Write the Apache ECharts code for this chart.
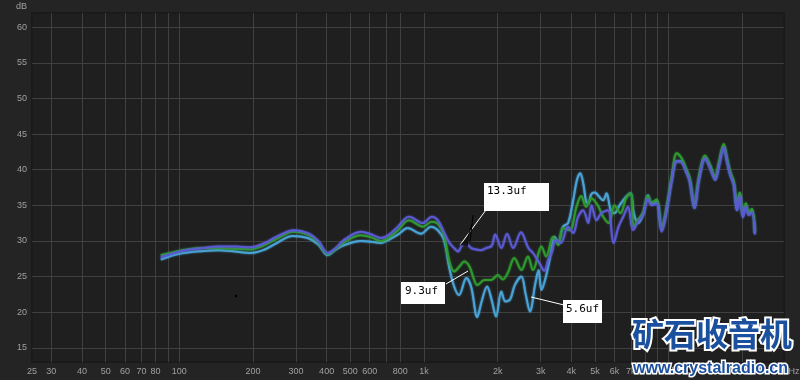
<!DOCTYPE html>
<html><head><meta charset="utf-8">
<script src="https://cdn.jsdelivr.net/npm/echarts@6/dist/echarts.min.js"></script>
<style>html,body{margin:0;padding:0;background:#242424}#c{width:800px;height:380px}</style>
</head><body><div id="c"></div>
<script>
// axis ticks
const xGridTicks = [30,40,50,60,70,80,90,100,200,300,400,500,600,700,800,1000,2000,3000,4000,5000,6000,7000,8000,9000,10000,20000];
const xLabelTicks = [25,30,40,50,60,70,80,100,200,300,400,500,600,800,1000,2000,3000,4000,5000,6000,7000,8000,10000,20000];
const yTicks = [15,20,25,30,35,40,45,50,55,60];

// 13.3uf
const f13 = [84,100,125,145,170,195,220,250,293,335,370,404,436,470,552,610,667,720,782,868,990,1075,1140,1208,1266,1328,1378,1431,1490,1558,1633,1712,1800,1890,1955,2070,2185,2316,2490,2670,2790,2950,3100,3230,3330,3450,3620,3880,4070,4265,4470,4690,4834,5070,5300,5650,5950,6240,6520,6820,7150,7500,7870,8230,8520,8930,9360,9810,10290,10780,11300,11740,12190,12750,13260,14090,14720,15500,16000,16790,17270,17820,18460,19020,19540,20100,20680,21250,21890,22510];
const d13 = [27.7,28.5,29.0,29.2,29.2,29.1,29.6,30.6,31.5,31.1,30.0,28.3,29.0,30.1,31.3,30.9,30.4,30.9,32.0,33.4,32.5,33.4,32.9,31.2,29.8,29.0,28.5,29.4,29.6,29.0,28.8,28.7,29.0,29.3,30.9,29.0,31.0,29.0,31.2,29.0,28.3,27.0,25.8,27.5,28.4,30.1,29.7,32.0,31.1,33.4,34.3,32.5,35.0,32.9,33.9,34.3,29.7,32.0,33.4,34.8,31.5,32.7,33.7,35.9,35.0,35.3,31.3,34.3,38.4,41.2,41.0,39.8,38.3,34.6,38.3,41.6,40.3,38.6,40.3,43.1,41.3,39.3,37.8,34.3,36.3,33.3,34.8,33.6,34.0,30.9];

// 9.3uf
const f93 = [84,100,125,145,170,195,220,250,293,335,370,404,436,470,552,610,667,720,782,868,990,1075,1140,1208,1266,1328,1396,1460,1534,1600,1650,1766,1880,2003,2100,2200,2340,2500,2660,2790,3020,3160,3370,3540,3700,3940,4200,4390,4600,4830,5130,5400,5700,6000,6350,6700,7000,7200,7500,7870,8230,8520,8930,9360,9810,10290,10780,11300,11740,12190,12750,13260,14090,14720,15500,16000,16790,17270,17820,18460,19020,19540,20100,20680,21250,21890,22510];
const d93 = [28.0,28.6,29.0,29.0,28.9,28.8,29.3,30.3,31.3,30.9,29.8,28.2,28.9,29.8,30.8,30.5,30.0,30.5,31.5,32.9,32.0,32.7,32.4,30.8,27.3,25.7,26.4,27.1,26.4,24.6,23.8,24.5,24.5,25.2,24.6,25.5,27.6,25.9,27.8,25.9,29.2,27.8,30.6,29.4,31.8,31.5,34.8,36.3,34.8,36.0,35.0,33.4,32.5,35.0,33.9,36.0,36.7,32.0,33.0,34.0,36.3,35.4,35.8,31.8,34.8,39.0,42.3,41.6,40.3,38.8,35.0,38.8,42.0,40.8,39.0,40.8,43.6,41.8,39.8,38.3,35.0,36.8,33.8,35.3,34.0,34.5,31.2];

// 5.6uf
const f56 = [84,100,125,145,170,195,220,250,290,335,370,404,436,470,552,610,667,720,790,857,972,1068,1140,1208,1266,1328,1390,1490,1560,1650,1720,1810,1890,1970,2070,2150,2250,2350,2500,2600,2710,2850,2940,3020,3150,3280,3420,3540,3700,3880,4070,4220,4350,4480,4600,4700,4830,5000,5200,5400,5570,5800,6000,6300,6700,6990,7200,7500,7870,8230,8520,8930,9360,9810,10290,10780,11300,11740,12190,12750,13260,14090,14720,15500,16000,16790,17270,17820,18460,19020,19540,20100,20680,21250,21890,22510];
const d56 = [27.4,28.2,28.6,28.7,28.5,28.3,28.7,29.7,30.7,30.4,29.5,28.0,28.8,29.4,30.0,29.9,29.7,30.2,31.0,31.8,31.0,32.0,31.5,30.1,26.4,23.6,22.4,24.8,23.5,19.3,21.5,23.6,21.7,19.4,22.9,21.5,21.8,23.8,25.0,22.6,20.1,24.0,25.9,23.1,25.0,27.8,30.6,29.7,32.0,32.5,35.7,38.6,39.5,38.0,35.5,35.3,36.6,36.8,36.2,35.7,36.7,34.3,33.9,35.0,36.2,36.7,33.9,32.5,33.8,36.4,35.2,35.5,31.5,34.3,38.6,41.2,41.2,40.0,38.6,34.6,38.5,41.6,40.5,38.6,40.5,43.3,41.5,39.5,38.0,34.3,36.7,33.5,35.0,33.8,34.3,31.1];

const pairs = (f, d) => f.map((v, i) => [v, d[i]]);
const fmtHz = v => v >= 1000 ? (v / 1000) + 'k' : String(v);

const chart = echarts.init(document.getElementById('c'), null, {renderer: 'canvas'});
const lineSeries = (name, f, d, color) => ({
  name, type: 'line', data: pairs(f, d), showSymbol: false, symbol: 'none', smooth: 0.35,
  lineStyle: {color, width: 2, shadowColor: color, shadowBlur: 2},
  z: 3
});
chart.setOption({
  animation: false,
  backgroundColor: '#242424',
  grid: {left: 32, right: 16, top: 13, bottom: 18, show: true, backgroundColor: '#1f1f1f', borderColor: '#1a1a1a', borderWidth: 2},
  xAxis: {
    type: 'log', logBase: 10, min: 25, max: 29600,
    axisLine: {show: false},
    axisTick: {show: false, customValues: xGridTicks},
    splitLine: {show: true, lineStyle: {color: '#404040', width: 1}},
    axisLabel: {customValues: xLabelTicks, formatter: fmtHz, color: '#a0a0a0', fontSize: 9, fontFamily: 'Liberation Sans', margin: 5}
  },
  yAxis: {
    type: 'value', min: 13, max: 62,
    name: 'dB', nameLocation: 'end', nameGap: 2, nameTextStyle: {color: '#a0a0a0', fontSize: 9, fontFamily: 'Liberation Sans', align: 'right', padding: [0, 5, 0, 0]},
    axisLine: {show: false},
    axisTick: {show: false, customValues: yTicks},
    splitLine: {show: true, lineStyle: {color: '#404040', width: 1}},
    axisLabel: {customValues: yTicks, color: '#a0a0a0', fontSize: 9, fontFamily: 'Liberation Sans', margin: 5}
  },
  series: [
    lineSeries('5.6uf', f56, d56, '#4aa3d6'),
    lineSeries('9.3uf', f93, d93, '#2e9a2e'),
    lineSeries('13.3uf', f13, d13, '#5a5ad2')
  ],
  graphic: [
    {type: 'circle', shape: {cx: 236, cy: 296, r: 1.2}, style: {fill: '#000'}, z: 100},
    {type: 'line', shape: {x1: 486, y1: 210, x2: 460, y2: 245}, style: {stroke: '#fff', lineWidth: 1}, z: 100},
    {type: 'polyline', shape: {points: [[473, 215], [470, 242]]}, style: {stroke: '#000', lineWidth: 1}, z: 100},
    {type: 'polyline', shape: {points: [[472, 224], [466, 243]]}, style: {stroke: '#000', lineWidth: 1}, z: 100},
    {type: 'polygon', shape: {points: [[460, 245], [469, 237], [468, 246]]}, style: {fill: '#111'}, z: 100},
    {type: 'rect', shape: {x: 484, y: 183, width: 65, height: 28}, style: {fill: '#fff'}, z: 100},
    {type: 'text', x: 487, y: 186, style: {text: '13.3uf', font: '11px "DejaVu Sans Mono"', fill: '#000'}, z: 101},
    {type: 'line', shape: {x1: 446, y1: 284, x2: 468, y2: 271}, style: {stroke: '#fff', lineWidth: 1}, z: 100},
    {type: 'rect', shape: {x: 401, y: 282, width: 44, height: 22}, style: {fill: '#fff'}, z: 100},
    {type: 'text', x: 405, y: 286, style: {text: '9.3uf', font: '11px "DejaVu Sans Mono"', fill: '#000'}, z: 101},
    {type: 'line', shape: {x1: 531, y1: 297, x2: 564, y2: 305}, style: {stroke: '#fff', lineWidth: 1}, z: 100},
    {type: 'rect', shape: {x: 563, y: 300, width: 39, height: 23}, style: {fill: '#fff'}, z: 100},
    {type: 'text', x: 566, y: 304, style: {text: '5.6uf', font: '11px "DejaVu Sans Mono"', fill: '#000'}, z: 101},
    {type: 'text', x: 794, y: 367, style: {text: 'Hz', font: '9px "Liberation Sans"', fill: '#a0a0a0', textAlign: 'center'}, z: 99},
    {type: 'text', x: 632, y: 318, style: {text: '矿石收音机', font: 'bold 32px "Noto Sans CJK SC"', fill: '#1b509f', stroke: '#ffffff', lineWidth: 4, strokeFirst: true}, z: 110},
    {type: 'text', x: 633, y: 361, style: {text: 'www.crystalradio.cn', font: 'bold 16px "Liberation Sans"', fill: '#1b509f', stroke: '#ffffff', lineWidth: 3, strokeFirst: true}, z: 110}
  ]
});
</script></body></html>
